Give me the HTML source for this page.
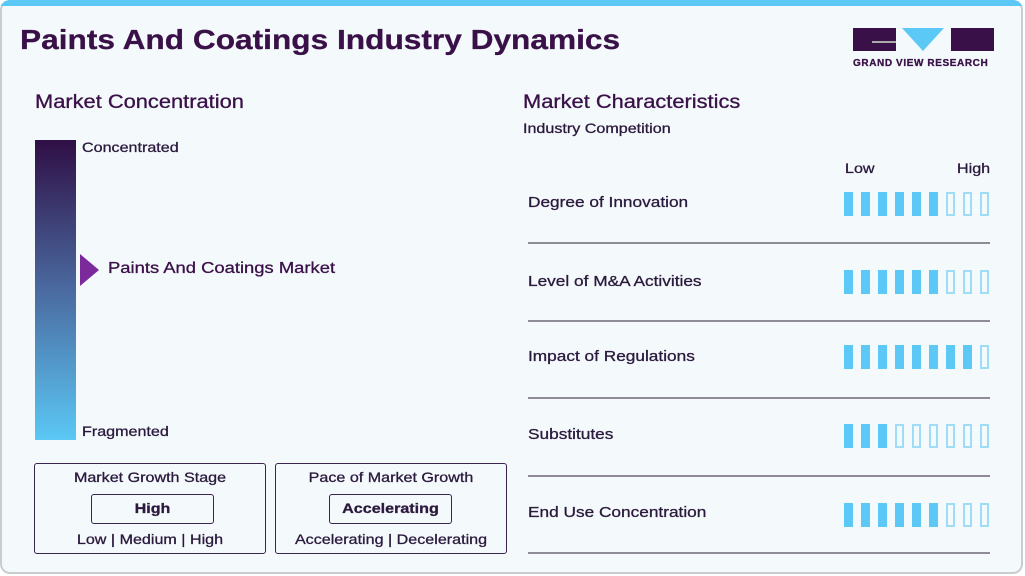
<!DOCTYPE html>
<html><head><style>
body{margin:0;width:1025px;height:576px;overflow:hidden;background:#fff;font-family:"Liberation Sans",sans-serif;color:#2b1a3d}
.card{position:absolute;left:0;top:0;width:1023px;height:574px;background:#f4f9fc;box-shadow:inset 0 0 0 2px #c9cdd2;border-radius:10px;overflow:hidden}
.top{position:absolute;left:0;top:0;width:100%;height:6px;background:#5bc8f5}
.t{position:absolute;white-space:nowrap;transform:scaleX(1.15);transform-origin:0 0;-webkit-text-stroke:0.3px currentColor}
.c{transform-origin:50% 0}
.bar{position:absolute;width:9px;height:24px;box-sizing:border-box}
.f{background:#5bc8f5}
.e{border:2px solid #9fdcf6}
.sep{position:absolute;left:528px;width:462px;height:2px;background:#8e8c96}
.box{position:absolute;border:1.5px solid #3a2450;border-radius:3px;box-sizing:border-box}
</style></head><body><div class="card">
<div class="top"></div>
<div class="t" style="left:20px;top:24px;font-size:28px;font-weight:bold;color:#3a1048;transform:scaleX(1.13)">Paints And Coatings Industry Dynamics</div>
<div style="position:absolute;left:853px;top:28px;width:43px;height:23px;background:#3a1048"></div>
<div style="position:absolute;left:872px;top:41px;width:24px;height:2px;background:#aaa"></div>
<div style="position:absolute;left:902px;top:28px;width:0;height:0;border-left:21px solid transparent;border-right:21px solid transparent;border-top:23px solid #5bc8f5"></div>
<div style="position:absolute;left:951px;top:28px;width:43px;height:23px;background:#3a1048"></div>
<div class="t" style="left:853px;top:58px;font-size:10px;font-weight:bold;letter-spacing:0.6px;color:#3a1048;transform:none">GRAND VIEW RESEARCH</div>
<div class="t" style="left:35px;top:92px;font-size:19px;color:#3a1048">Market Concentration</div>
<div style="position:absolute;left:35px;top:140px;width:41px;height:300px;background:linear-gradient(#2f0f45,#4a6aa0 50%,#5bc8f5)"></div>
<div class="t" style="left:82px;top:139px;font-size:14px">Concentrated</div>
<div class="t" style="left:82px;top:423px;font-size:14px">Fragmented</div>
<div style="position:absolute;left:80px;top:254px;width:0;height:0;border-top:16px solid transparent;border-bottom:16px solid transparent;border-left:19px solid #7a2a9a"></div>
<div class="t" style="left:108px;top:260px;font-size:16px;color:#3a1048">Paints And Coatings Market</div>
<div class="box" style="left:34px;top:463px;width:232px;height:91px"></div>
<div class="t c" style="left:34px;top:469px;width:232px;text-align:center;font-size:14px">Market Growth Stage</div>
<div class="box" style="left:91px;top:494px;width:123px;height:30px"></div>
<div class="t c" style="left:91px;top:500px;width:123px;text-align:center;font-size:14px;font-weight:bold">High</div>
<div class="t c" style="left:34px;top:531px;width:232px;text-align:center;font-size:14px">Low | Medium | High</div>
<div class="box" style="left:275px;top:463px;width:232px;height:91px"></div>
<div class="t c" style="left:275px;top:469px;width:232px;text-align:center;font-size:14px">Pace of Market Growth</div>
<div class="box" style="left:329px;top:494px;width:123px;height:30px"></div>
<div class="t c" style="left:329px;top:500px;width:123px;text-align:center;font-size:14px;font-weight:bold">Accelerating</div>
<div class="t c" style="left:275px;top:531px;width:232px;text-align:center;font-size:14px">Accelerating | Decelerating</div>
<div class="t" style="left:523px;top:92px;font-size:19px;color:#3a1048">Market Characteristics</div>
<div class="t" style="left:523px;top:120px;font-size:14px">Industry Competition</div>
<div class="t" style="left:845px;top:160px;font-size:14px">Low</div>
<div class="t" style="left:957px;top:160px;font-size:14px">High</div>
<div class="t" style="left:528px;top:194px;font-size:15px">Degree of Innovation</div>
<div class="t" style="left:528px;top:273px;font-size:15px">Level of M&amp;A Activities</div>
<div class="t" style="left:528px;top:348px;font-size:15px">Impact of Regulations</div>
<div class="t" style="left:528px;top:426px;font-size:15px">Substitutes</div>
<div class="t" style="left:528px;top:504px;font-size:15px">End Use Concentration</div>
<div class="sep" style="top:242px"></div><div class="sep" style="top:320px"></div><div class="sep" style="top:397px"></div><div class="sep" style="top:475px"></div><div class="sep" style="top:552px"></div>
<div id="bars"></div>
</div>
<script>
var rows=[[192,6],[270,6],[345,8],[424,3],[503,6]],h='';
rows.forEach(function(r){for(var i=0;i<9;i++){h+='<div class="bar '+(i<r[1]?'f':'e')+'" style="left:'+(844+17*i)+'px;top:'+r[0]+'px"></div>';}});
document.getElementById('bars').innerHTML=h;
</script>
</body></html>
